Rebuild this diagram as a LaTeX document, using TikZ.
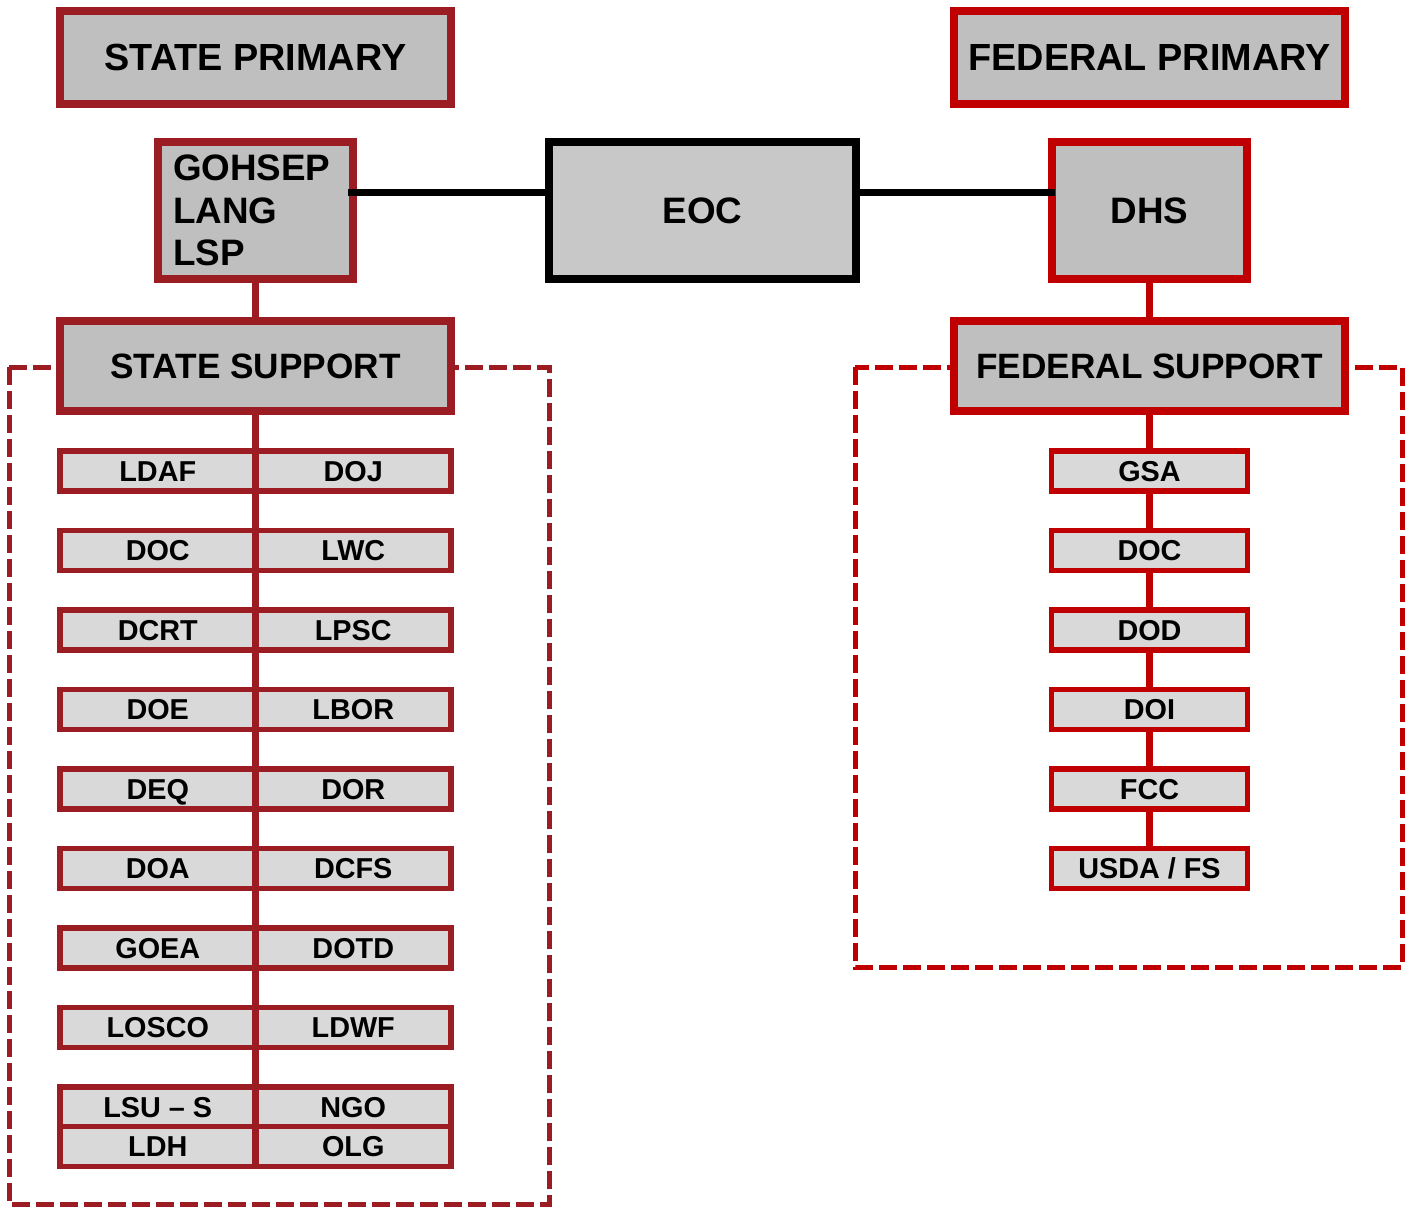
\documentclass[tikz,border=0pt]{standalone}
\usepackage{fontspec}
\setmainfont{Liberation Sans}
\usepackage{xcolor}
\usepackage{tikz}
\usetikzlibrary{positioning, backgrounds}

\definecolor{statered}{RGB}{155,28,35}
\definecolor{fedred}{RGB}{192,0,0}
\definecolor{boxgrey}{RGB}{191,191,191}
\definecolor{eocgrey}{RGB}{200,200,200}
\definecolor{agencygrey}{RGB}{217,217,217}

\begin{document}
\begin{tikzpicture}[x=0.5pt, y=-0.5pt, on grid, node distance=39.75pt,
    head/.style={draw, line width=4pt, fill=boxgrey, outer sep=0pt, inner sep=0pt,
      minimum width=195.5pt, minimum height=46.5pt,
      font=\fontsize{18.4}{21.25}\selectfont\bfseries},
    capline/.style={text height=13.2pt, text depth=0pt},
    primary/.style={head, capline, font=\fontsize{18.9}{21.25}\selectfont\bfseries},
    support/.style={head, capline, minimum height=45pt, text height=12.6pt,
      font=\fontsize{17.6}{21.25}\selectfont\bfseries},
    agency/.style={draw, line width=2.7pt, fill=agencygrey, outer sep=0pt, inner sep=0pt,
      minimum width=97.75pt, minimum height=20pt, text height=10.3pt, text depth=0pt,
      font=\fontsize{14.4}{16}\selectfont\bfseries},
    stagency/.style={agency, draw=statered},
    fedagency/.style={agency, draw=fedred},
    statelink/.style={draw=statered, line width=3.5pt},
    fedlink/.style={draw=fedred, line width=3.5pt},
    eoclink/.style={draw=black, line width=3.8pt},
    frame/.style={line width=2.5pt, dash pattern=on 9pt off 3pt}]

  \useasboundingbox (0,0) rectangle (1413,1207);

  % support frames
  \draw[frame, statered] (9,367)   rectangle (549,1204);
  \draw[frame, fedred]   (855,367) rectangle (1402,967);

  \node[primary, draw=statered] (sprim) at (255.5,57.5)  {STATE PRIMARY};
  \node[primary, draw=fedred]   (fprim) at (1149.5,57.5) {FEDERAL PRIMARY};
  \node[head, draw=statered, minimum width=97.5pt, minimum height=68.5pt,
        align=left, text width=82.5pt] (gohsep) at (255.5,210.5) {GOHSEP\\LANG\\LSP};
  \node[head, capline, draw=black, fill=eocgrey, minimum width=153.5pt,
        minimum height=68.5pt]        (eoc)   at (702.5,210.5)  {EOC};
  \node[head, capline, draw=fedred, minimum width=97.5pt,
        minimum height=68.5pt]        (dhs)   at (1149.5,210.5) {DHS};
  \node[support, draw=statered] (ssup) at (255.5,366)  {STATE SUPPORT};
  \node[support, draw=fedred]   (fsup) at (1149.5,366) {FEDERAL SUPPORT};

  % state agencies
  \node[stagency] (ldaf)  at (157.75,470.8)        {LDAF};
  \node[stagency] (doc)   [below=of ldaf]          {DOC};
  \node[stagency] (dcrt)  [below=of doc]           {DCRT};
  \node[stagency] (doe)   [below=of dcrt]          {DOE};
  \node[stagency] (deq)   [below=of doe]           {DEQ};
  \node[stagency] (doa)   [below=of deq]           {DOA};
  \node[stagency] (goea)  [below=of doa]           {GOEA};
  \node[stagency] (losco) [below=of goea]          {LOSCO};
  \node[stagency] (lsus)  [below=of losco]         {LSU – S};
  \node[stagency] (ldh)   [below=19.9pt of lsus]   {LDH};
  \node[stagency] (doj)   [right=97.75pt of ldaf]  {DOJ};
  \node[stagency] (lwc)   [below=of doj]           {LWC};
  \node[stagency] (lpsc)  [below=of lwc]           {LPSC};
  \node[stagency] (lbor)  [below=of lpsc]          {LBOR};
  \node[stagency] (dor)   [below=of lbor]          {DOR};
  \node[stagency] (dcfs)  [below=of dor]           {DCFS};
  \node[stagency] (dotd)  [below=of dcfs]          {DOTD};
  \node[stagency] (ldwf)  [below=of dotd]          {LDWF};
  \node[stagency] (ngo)   [below=of ldwf]          {NGO};
  \node[stagency] (olg)   [below=19.9pt of ngo]    {OLG};

  % federal agencies
  \node[fedagency] (gsa)   at (1149.5,471)   {GSA};
  \node[fedagency] (f_doc) [below=of gsa]    {DOC};
  \node[fedagency] (dod)   [below=of f_doc]  {DOD};
  \node[fedagency] (doi)   [below=of dod]    {DOI};
  \node[fedagency] (fcc)   [below=of doi]    {FCC};
  \node[fedagency] (usda)  [below=of fcc]    {USDA / FS};

  \path[statelink] (gohsep) edge (ssup);
  \draw[statelink] (ssup) -- (ssup |- ldh.south);
  \path[fedlink] (dhs)   edge (fsup)
                 (fsup)  edge (gsa)
                 (gsa)   edge (f_doc)
                 (f_doc) edge (dod)
                 (dod)   edge (doi)
                 (doi)   edge (fcc)
                 (fcc)   edge (usda);
  \draw[eoclink, shorten <=-2.5pt] ([yshift=9pt]gohsep.east) -- ([yshift=9pt]eoc.west);
  \draw[eoclink, shorten >=-1.5pt] ([yshift=9pt]eoc.east) -- ([yshift=9pt]dhs.west);
\end{tikzpicture}
\end{document}
